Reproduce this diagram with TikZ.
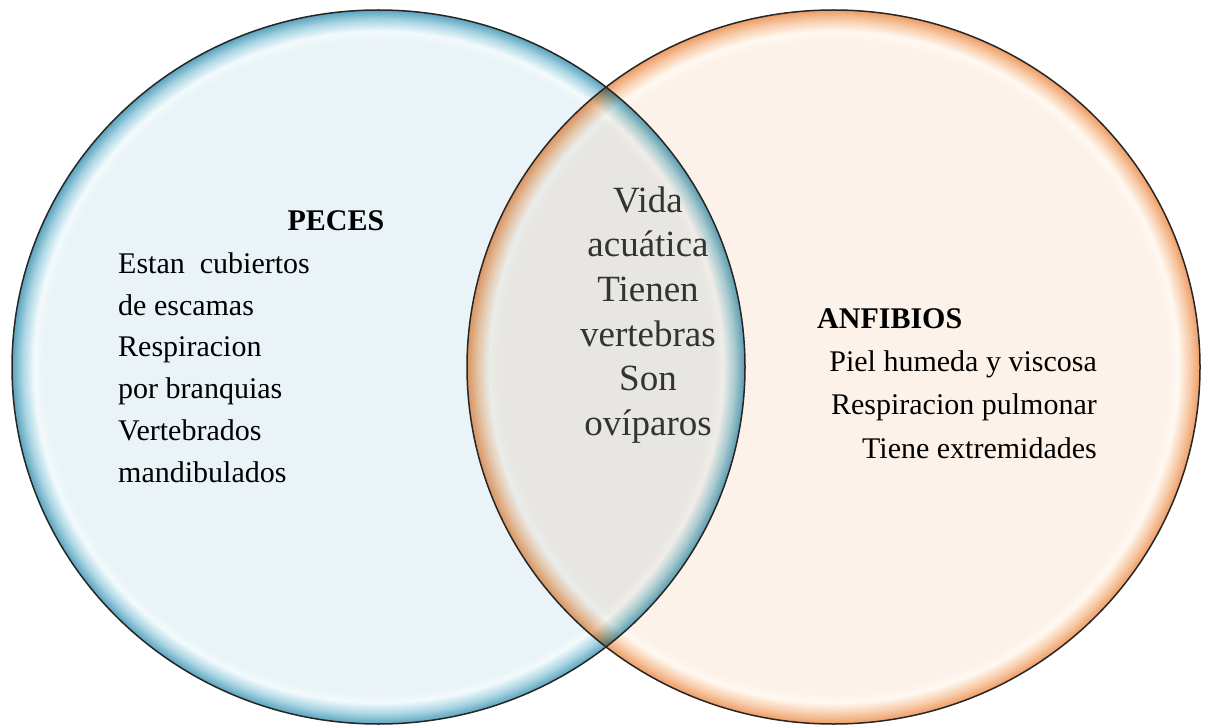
\documentclass[tikz,border=0pt]{standalone}
\usepackage{fontspec}
\setmainfont{Liberation Serif}
\usepackage{xcolor}
\usetikzlibrary{positioning}

\definecolor{pecesIn}{HTML}{EAF3F7}
\definecolor{pecesHi}{HTML}{F2FAFC}
\definecolor{pecesMid}{HTML}{A9D5E3}
\definecolor{pecesEdge}{HTML}{5AA3BE}
\definecolor{anfIn}{HTML}{FDF2EA}
\definecolor{anfHi}{HTML}{FFF9F2}
\definecolor{anfMid}{HTML}{F8CCAA}
\definecolor{anfEdge}{HTML}{EE9C64}

% flat inside, bevelled rim at the border
\pgfdeclareradialshading{pecesrim}{\pgfpoint{0bp}{0bp}}{%
  color(0bp)=(pecesIn); color(22.9bp)=(pecesIn); color(23.5bp)=(pecesHi);
  color(24.3bp)=(pecesMid); color(25bp)=(pecesEdge); color(50bp)=(pecesEdge)}
\pgfdeclareradialshading{anfrim}{\pgfpoint{0bp}{0bp}}{%
  color(0bp)=(anfIn); color(22.9bp)=(anfIn); color(23.5bp)=(anfHi);
  color(24.3bp)=(anfMid); color(25bp)=(anfEdge); color(50bp)=(anfEdge)}

\begin{document}
\begin{tikzpicture}[
  x=1pt, y=-1pt,
  rim/.style={draw=black!85, line width=1.5pt},
  title/.style={font=\fontsize{30}{36}\selectfont\bfseries, inner sep=0pt},
  body/.style={font=\fontsize{30}{36}\selectfont, inner sep=0pt},
  shared/.style={font=\fontsize{37}{44}\selectfont, text=black!80, inner sep=0pt},
]
\useasboundingbox (0,0) rectangle (1207,727);

\coordinate (cPeces) at (378.5,367);
\coordinate (cAnf)   at (833.5,367);

\shade[shading=pecesrim] (cPeces) ellipse [x radius=366.5, y radius=357];
\shade[shading=anfrim, blend mode=multiply] (cAnf) ellipse [x radius=366.5, y radius=357];
\draw[rim] (cPeces) ellipse [x radius=366.5, y radius=357];
\draw[rim] (cAnf) ellipse [x radius=366.5, y radius=357];

% peces
\node[title, anchor=base] (peces) at (336,231) {PECES};
\foreach \txt [count=\i] in {{Estan\ \ cubiertos}, {de escamas}, {Respiracion},
    {por branquias}, {Vertebrados}, {mandibulados}}
  \node[body, anchor=base west] (pez\i) at (118,{273.5+41.7*(\i-1)}) {\txt};

% en comun
\foreach \txt [count=\i] in {Vida, acuática, Tienen, vertebras, Son, ovíparos}
  \node[shared, anchor=base] (com\i) at (648,{212.5+44.5*(\i-1)}) {\txt};

% anfibios
\node[title, anchor=base west] (anfibios) at (817,328.5) {ANFIBIOS};
\foreach \txt [count=\i] in {{Piel humeda y viscosa}, {Respiracion pulmonar},
    {Tiene extremidades}}
  \node[body, anchor=base east] (anf\i) at (1097,{371+43.5*(\i-1)}) {\txt};
\end{tikzpicture}
\end{document}
